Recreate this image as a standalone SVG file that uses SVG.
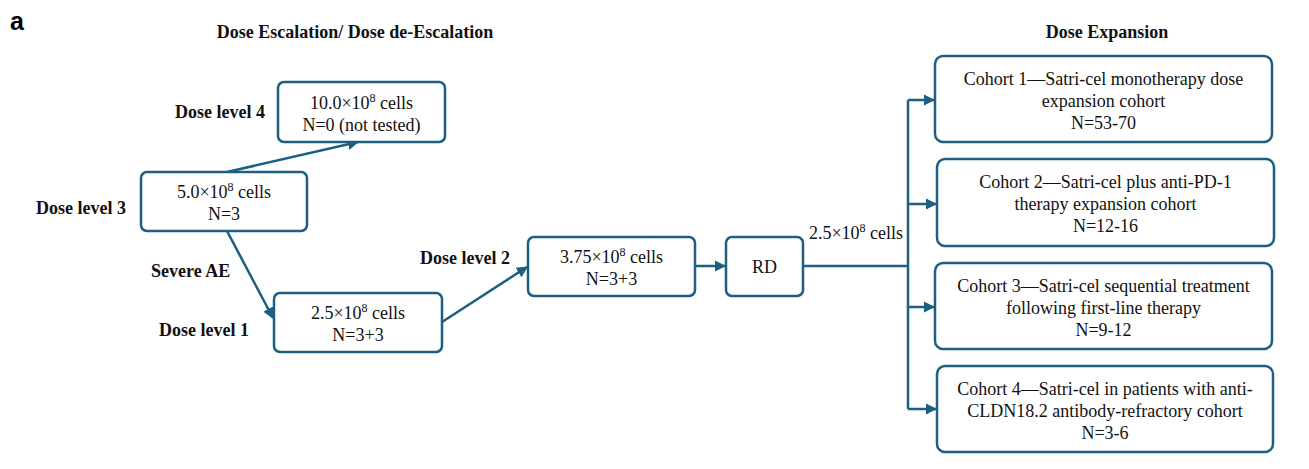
<svg xmlns="http://www.w3.org/2000/svg" width="1309" height="469" viewBox="0 0 1309 469">
<style>
.box{fill:#fff;stroke:#1c5f80;stroke-width:2.5}
.t{font-family:"Liberation Serif",serif;font-size:18px;fill:#111;text-anchor:middle}
.b{font-family:"Liberation Serif",serif;font-size:18px;font-weight:bold;fill:#111}
.c{fill:none;stroke:#1c5f80;stroke-width:2.5}
</style>
<defs>
<marker id="ah" viewBox="0 0 10 10" refX="9" refY="5" markerWidth="4.5" markerHeight="4.5" orient="auto" markerUnits="strokeWidth">
<path d="M0,0 L10,5 L0,10 z" fill="#1c5f80"/>
</marker>
</defs>
<rect width="1309" height="469" fill="#fff"/>
<text x="10" y="30" style="font-family:'Liberation Sans',sans-serif;font-size:25px;font-weight:bold">a</text>
<text x="355" y="38" class="b" text-anchor="middle">Dose Escalation/ Dose de-Escalation</text>
<text x="1107" y="38" class="b" text-anchor="middle">Dose Expansion</text>
<text x="265" y="118" class="b" text-anchor="end">Dose level 4</text>
<text x="126" y="214" class="b" text-anchor="end">Dose level 3</text>
<text x="151" y="277" class="b">Severe AE</text>
<text x="249" y="336" class="b" text-anchor="end">Dose level 1</text>
<text x="510" y="264" class="b" text-anchor="end">Dose level 2</text>
<text x="856" y="239" class="t">2.5×10<tspan dy="-7" font-size="12">8</tspan><tspan dy="7"> cells</tspan></text>
<g id="connectors">
<path class="c" d="M227,172 L358,142" marker-end="url(#ah)"/>
<path class="c" d="M227,231 L273,318" marker-end="url(#ah)"/>
<path class="c" d="M442,322 L527,267" marker-end="url(#ah)"/>
<path class="c" d="M695,266 L725,266" marker-end="url(#ah)"/>
<path class="c" d="M803,266 L908,266"/>
<path class="c" d="M908,100 L908,409"/>
<path class="c" d="M908,100 L934,100" marker-end="url(#ah)"/>
<path class="c" d="M908,204 L936,204" marker-end="url(#ah)"/>
<path class="c" d="M908,307 L934,307" marker-end="url(#ah)"/>
<path class="c" d="M908,409 L936,409" marker-end="url(#ah)"/>
</g>
<g id="dose4">
<rect class="box" x="278" y="82" width="167" height="60" rx="6"/>
<text x="361.5" y="109" class="t">10.0×10<tspan dy="-7" font-size="12">8</tspan><tspan dy="7"> cells</tspan></text>
<text x="361.5" y="131" class="t">N=0 (not tested)</text>
</g>
<g id="dose3">
<rect class="box" x="141" y="172" width="166" height="59" rx="6"/>
<text x="224" y="198" class="t">5.0×10<tspan dy="-7" font-size="12">8</tspan><tspan dy="7"> cells</tspan></text>
<text x="224" y="220" class="t">N=3</text>
</g>
<g id="dose1">
<rect class="box" x="274" y="293" width="168" height="59" rx="6"/>
<text x="358" y="319" class="t">2.5×10<tspan dy="-7" font-size="12">8</tspan><tspan dy="7"> cells</tspan></text>
<text x="358" y="341" class="t">N=3+3</text>
</g>
<g id="dose2">
<rect class="box" x="528" y="237" width="167" height="59" rx="6"/>
<text x="611.5" y="263" class="t">3.75×10<tspan dy="-7" font-size="12">8</tspan><tspan dy="7"> cells</tspan></text>
<text x="611.5" y="285" class="t">N=3+3</text>
</g>
<g id="rd">
<rect class="box" x="726" y="237" width="77" height="59" rx="6"/>
<text x="764.5" y="273" class="t">RD</text>
</g>
<g id="cohort1">
<rect class="box" x="935" y="56" width="337" height="86" rx="8"/>
<text x="1103.5" y="85" class="t">Cohort 1—Satri-cel monotherapy dose</text>
<text x="1103.5" y="107" class="t">expansion cohort</text>
<text x="1103.5" y="129" class="t">N=53-70</text>
</g>
<g id="cohort2">
<rect class="box" x="937" y="159" width="337" height="87" rx="8"/>
<text x="1105.5" y="188" class="t">Cohort 2—Satri-cel plus anti-PD-1</text>
<text x="1105.5" y="210" class="t">therapy expansion cohort</text>
<text x="1105.5" y="232" class="t">N=12-16</text>
</g>
<g id="cohort3">
<rect class="box" x="935" y="263" width="337" height="86" rx="8"/>
<text x="1103.5" y="292" class="t">Cohort 3—Satri-cel sequential treatment</text>
<text x="1103.5" y="314" class="t">following first-line therapy</text>
<text x="1103.5" y="336" class="t">N=9-12</text>
</g>
<g id="cohort4">
<rect class="box" x="937" y="366" width="336" height="86" rx="8"/>
<text x="1105" y="395" class="t">Cohort 4—Satri-cel in patients with anti-</text>
<text x="1105" y="417" class="t">CLDN18.2 antibody-refractory cohort</text>
<text x="1105" y="439" class="t">N=3-6</text>
</g>
</svg>
